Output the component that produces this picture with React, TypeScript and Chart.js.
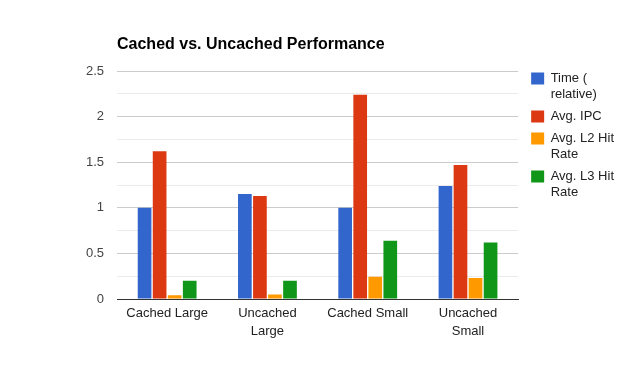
import React, { useEffect, useRef } from "react";
import { Chart, registerables } from "chart.js";

Chart.register(...registerables);

const categories: (string | string[])[] = ["Cached Large", ["Uncached", "Large"], "Cached Small", ["Uncached", "Small"]];
const seriesLabels: string[][] = [["Time (", "relative)"], ["Avg. IPC"], ["Avg. L2 Hit", "Rate"], ["Avg. L3 Hit", "Rate"]];
const timeRelative = [1.0, 1.15, 1.0, 1.24];
const avgIPC = [1.62, 1.13, 2.24, 1.47];
const avgL2 = [0.04, 0.05, 0.245, 0.23];
const avgL3 = [0.2, 0.2, 0.64, 0.62];
const colors = ["#3366cc", "#dc3912", "#ff9900", "#109618"];
const titleText = "Cached vs. Uncached Performance";

const FONT = "'Liberation Sans', Arial, sans-serif";

export default function App() {
  const ref = useRef<HTMLCanvasElement | null>(null);
  useEffect(() => {
    if (!ref.current) return;
    const titlePlugin = {
      id: "leftTitle",
      afterDraw(chart: any) {
        const c = chart.ctx;
        c.save();
        c.font = `bold 16px ${FONT}`;
        c.fillStyle = "#000";
        c.textAlign = "left";
        c.textBaseline = "alphabetic";
        c.fillText(titleText, chart.chartArea.left, 49);
        c.restore();
      },
    };
    const legendShift = {
      id: "legendShift",
      afterLayout(chart: any) {
        if (chart.legend) {
          chart.legend.left += 7;
          chart.legend.top -= 5;
        }
      },
    };
    const values = [timeRelative, avgIPC, avgL2, avgL3];
    const chart = new Chart(ref.current, {
      type: "bar",
      data: {
        labels: categories as any,
        datasets: values.map((v, i) => ({
          label: seriesLabels[i] as any,
          data: v,
          backgroundColor: colors[i],
          borderWidth: 0,
          categoryPercentage: 0.6,
          barPercentage: 0.91,
        })),
      },
      options: {
        responsive: false,
        animation: false,
        layout: { padding: { top: 71, right: 18, bottom: 0, left: 0 } },
        plugins: {
          title: { display: false },
          tooltip: { enabled: false },
          legend: {
            position: "right",
            align: "start",
            labels: {
              boxWidth: 13,
              boxHeight: 12,
              padding: 6,
              color: "#222",
              font: { family: FONT, size: 13, lineHeight: "16px" as any },
            },
          },
        },
        scales: {
          x: {
            grid: { display: false, drawTicks: false },
            border: { display: true, color: "#333", width: 1 },
            ticks: {
              color: "#222",
              padding: 6,
              font: { family: FONT, size: 13, lineHeight: 1.35 },
              maxRotation: 0,
              autoSkip: false,
            },
            afterFit(scale: any) {
              scale.height = 72;
            },
          },
          y: {
            min: 0,
            max: 2.5,
            border: { display: false },
            grid: {
              drawTicks: false,
              color: (ctx: any) => {
                const v = ctx.tick ? ctx.tick.value : 0;
                return Math.abs(v * 2 - Math.round(v * 2)) < 1e-6 ? "#cccccc" : "#ebebeb";
              },
            },
            ticks: {
              stepSize: 0.25,
              padding: 13,
              color: "#444",
              font: { family: FONT, size: 13 },
              callback: (val: any) => {
                const v = Number(val);
                return Math.abs(v * 2 - Math.round(v * 2)) < 1e-6 ? String(Math.round(v * 2) / 2) : "";
              },
            },
            afterFit(scale: any) {
              scale.width = 117;
            },
          },
        },
      },
      plugins: [titlePlugin, legendShift],
    });
    return () => chart.destroy();
  }, []);
  return (
    <div style={{ position: "fixed", left: 0, top: 0, width: 635, height: 371, background: "#fff" }}>
      <canvas ref={ref} width={635} height={371} style={{ display: "block" }} />
    </div>
  );
}
